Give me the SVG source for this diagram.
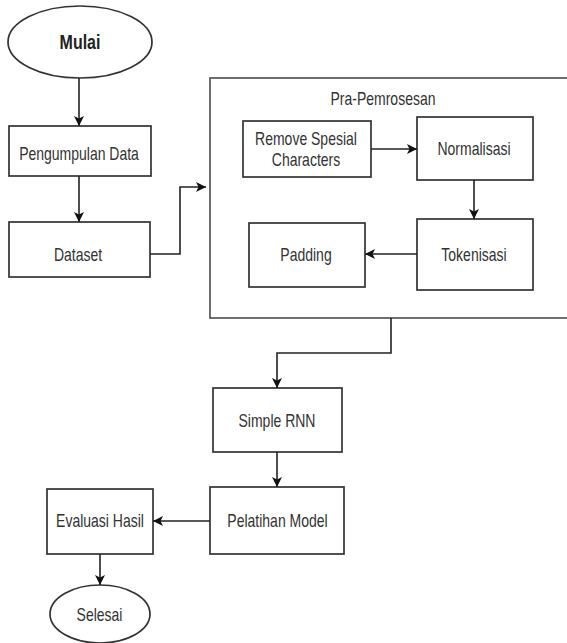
<svg xmlns="http://www.w3.org/2000/svg" width="567" height="643" viewBox="0 0 567 643">
<style>
.box{fill:#fff;stroke:#333;stroke-width:1.7}
.cont{fill:#fff;stroke:#555;stroke-width:1.7}
.t{font-family:"Liberation Sans",Arial,sans-serif;font-size:14px;fill:#333;text-anchor:middle;dominant-baseline:central}
.b{font-weight:bold;font-size:16px;fill:#222}
.c{fill:none;stroke:#222;stroke-width:1.6}
</style>
<defs>
<marker id="ah" viewBox="0 0 10 10" refX="10" refY="5" markerWidth="10" markerHeight="10" markerUnits="userSpaceOnUse" orient="auto">
<path d="M0,0 L10,5 L0,10 L2.5,5 Z" fill="#111"/>
</marker>
</defs>
<rect width="567" height="643" fill="#fff"/>
<g id="praPemrosesan">
<rect class="cont" x="210" y="78" width="362" height="240"/>
<text class="t" transform="translate(383,98.5) scale(1,1.3)">Pra-Pemrosesan</text>
</g>
<g id="mulai">
<ellipse class="box" cx="80" cy="42" rx="72" ry="36"/>
<text class="t b" transform="translate(80,42) scale(1,1.3)">Mulai</text>
</g>
<g id="pengumpulan">
<rect class="box" x="9" y="126" width="142" height="50"/>
<text class="t" transform="translate(79,153.5) scale(1,1.3)">Pengumpulan Data</text>
</g>
<g id="dataset">
<rect class="box" x="9" y="222" width="141" height="55"/>
<text class="t" transform="translate(78,254) scale(1,1.3)">Dataset</text>
</g>
<g id="remove">
<rect class="box" x="243" y="121" width="128" height="56"/>
<text class="t" transform="translate(306,138.5) scale(1,1.3)">Remove Spesial</text>
<text class="t" transform="translate(306,159.5) scale(1,1.3)">Characters</text>
</g>
<g id="normalisasi">
<rect class="box" x="417" y="117" width="116" height="63"/>
<text class="t" transform="translate(474,148.5) scale(1,1.3)">Normalisasi</text>
</g>
<g id="padding">
<rect class="box" x="249" y="223" width="116" height="64"/>
<text class="t" transform="translate(306,254) scale(1,1.3)">Padding</text>
</g>
<g id="tokenisasi">
<rect class="box" x="417" y="219" width="116" height="71"/>
<text class="t" transform="translate(474,254) scale(1,1.3)">Tokenisasi</text>
</g>
<g id="simpleRnn">
<rect class="box" x="213" y="388" width="129" height="64"/>
<text class="t" transform="translate(277,420) scale(1,1.3)">Simple RNN</text>
</g>
<g id="pelatihan">
<rect class="box" x="210" y="487" width="134" height="67"/>
<text class="t" transform="translate(277.5,520) scale(1,1.3)">Pelatihan Model</text>
</g>
<g id="evaluasi">
<rect class="box" x="47" y="489" width="106" height="65"/>
<text class="t" transform="translate(100,520) scale(1,1.3)">Evaluasi Hasil</text>
</g>
<g id="selesai">
<ellipse class="box" cx="100" cy="614" rx="50" ry="29"/>
<text class="t" transform="translate(99.5,614.5) scale(1,1.3)">Selesai</text>
</g>
<g id="connectors">
<path class="c" d="M79,78 V126" marker-end="url(#ah)"/>
<path class="c" d="M79,176 V222" marker-end="url(#ah)"/>
<path class="c" d="M150,254 H180 V187 H206" marker-end="url(#ah)"/>
<path class="c" d="M371,149 H417" marker-end="url(#ah)"/>
<path class="c" d="M474,180 V219" marker-end="url(#ah)"/>
<path class="c" d="M417,254 H365" marker-end="url(#ah)"/>
<path class="c" d="M391,318 V353 H277 V388" marker-end="url(#ah)"/>
<path class="c" d="M277,452 V487" marker-end="url(#ah)"/>
<path class="c" d="M210,521 H153" marker-end="url(#ah)"/>
<path class="c" d="M100,554 V585" marker-end="url(#ah)"/>
</g>
</svg>
